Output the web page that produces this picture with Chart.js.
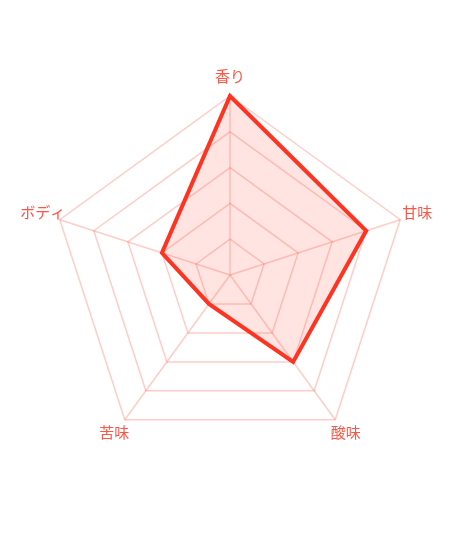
<!DOCTYPE html>
<html>
<head>
<meta charset="utf-8">
<script src="https://cdn.jsdelivr.net/npm/chart.js@4/dist/chart.umd.min.js"></script>
<style>
  html, body { margin: 0; padding: 0; background: #fff; }
  #wrap { width: 460px; height: 552px; }
</style>
</head>
<body>
<div id="wrap"><canvas id="tasteChart"></canvas></div>
<script>
// Taste profile data
const labels = ['香り', '甘味', '酸味', '苦味', 'ボディ'];
const scores = [5, 4, 3, 1, 2];
const scaleMax = 5;

const LABEL_FONT = '15px "Noto Sans CJK JP", "Noto Sans", sans-serif';

// Draw the axis names centred just outside each spoke
const centeredLabels = {
    id: 'centeredLabels',
    afterDraw(chart) {
        const scale = chart.scales.r;
        const c = chart.ctx;
        c.save();
        c.font = LABEL_FONT;
        c.fillStyle = '#ff5544';
        c.textAlign = 'center';
        c.textBaseline = 'middle';
        labels.forEach((text, i) => {
            const p = scale.getPointPosition(i, scale.drawingArea + 18);
            c.fillText(text, p.x, p.y - 2);
        });
        c.restore();
    }
};

const ctx = document.getElementById('tasteChart');

new Chart(ctx, {
    type: 'radar',
    data: {
        labels: labels,
        datasets: [{
            label: 'テイスト',
            data: scores,
            borderColor: '#ff3322',
            backgroundColor: 'rgba(255, 90, 70, 0.16)',
            borderWidth: 4,
            pointRadius: 0,
            fill: true
        }]
    },
    options: {
        responsive: true,
        maintainAspectRatio: false,
        animation: false,
        layout: { padding: { left: 51, right: 51, top: 0, bottom: 2 } },
        plugins: {
            legend: { display: false },
            tooltip: { enabled: false }
        },
        scales: {
            r: {
                min: 0,
                max: scaleMax,
                ticks: { stepSize: 1, display: false },
                grid: { color: 'rgba(255, 90, 70, 0.3)', lineWidth: 1.5 },
                angleLines: { color: 'rgba(255, 90, 70, 0.3)', lineWidth: 1.5 },
                pointLabels: { display: false }
            }
        }
    },
    plugins: [centeredLabels]
});
</script>
</body>
</html>
